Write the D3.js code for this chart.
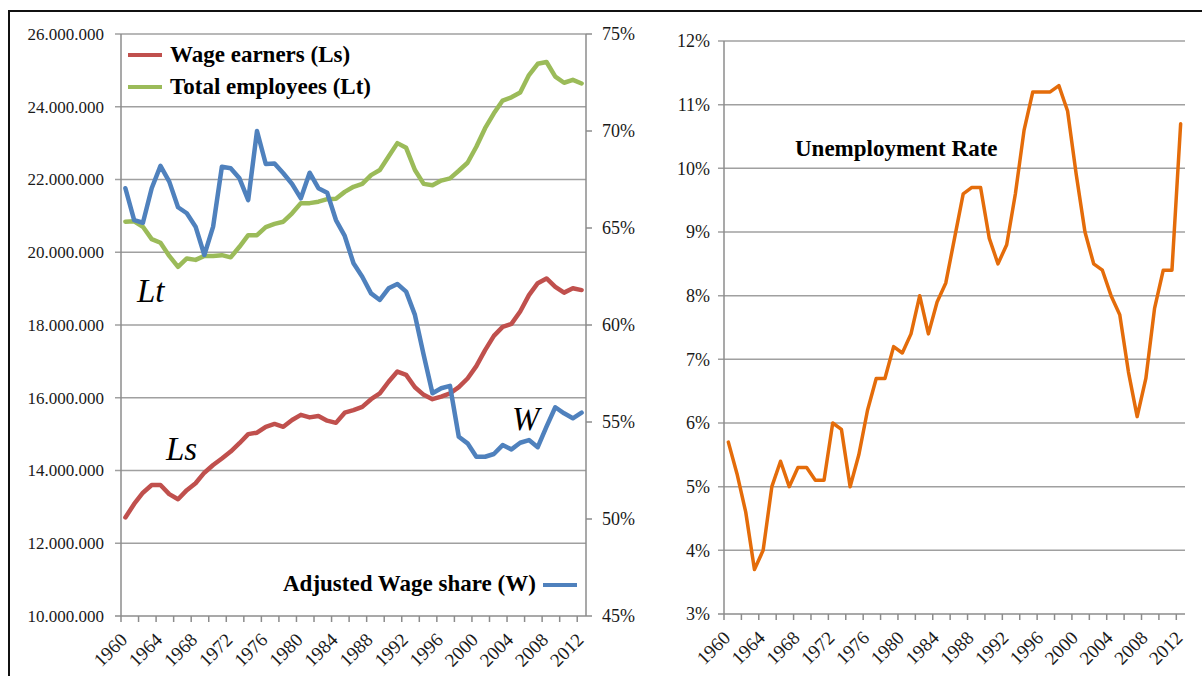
<!DOCTYPE html>
<meta charset="utf-8">
<script src="https://d3js.org/d3.v7.min.js"></script>
<style>
body{margin:0;background:#fff}
text{font-family:"Liberation Serif","DejaVu Serif",serif;fill:#1a1a1a}
</style>
<body>
<div id="svg"></div>
<script>
var years = [1960,1961,1962,1963,1964,1965,1966,1967,1968,1969,1970,1971,1972,1973,1974,1975,1976,1977,1978,1979,
	1980,1981,1982,1983,1984,1985,1986,1987,1988,1989,1990,1991,1992,1993,1994,1995,1996,1997,1998,1999,
	2000,2001,2002,2003,2004,2005,2006,2007,2008,2009,2010,2011,2012];
// millions of people
var wageEarners = [12.71,13.08,13.39,13.60,13.60,13.35,13.21,13.46,13.65,13.94,14.15,14.33,14.52,14.75,15.00,15.04,15.20,15.28,15.20,15.39,
	15.53,15.46,15.50,15.37,15.31,15.59,15.66,15.75,15.96,16.12,16.44,16.72,16.63,16.29,16.08,15.96,16.03,16.12,16.29,16.53,
	16.87,17.31,17.70,17.95,18.03,18.37,18.82,19.15,19.28,19.05,18.89,19.01,18.96];
var totalEmployees = [20.84,20.85,20.70,20.36,20.26,19.90,19.60,19.83,19.79,19.90,19.90,19.92,19.86,20.15,20.47,20.47,20.69,20.78,20.84,21.07,
	21.35,21.35,21.39,21.46,21.47,21.66,21.80,21.88,22.12,22.26,22.63,23.00,22.87,22.26,21.88,21.84,21.97,22.03,22.24,22.46,
	22.90,23.41,23.82,24.17,24.26,24.39,24.87,25.18,25.23,24.83,24.66,24.74,24.64];
// percent
var wageShare = [67.05,65.41,65.27,67.05,68.20,67.39,66.07,65.76,65.07,63.61,65.07,68.16,68.08,67.56,66.44,70.00,68.30,68.33,67.82,67.27,
	66.53,67.85,67.05,66.82,65.41,64.59,63.18,62.49,61.63,61.29,61.89,62.11,61.72,60.52,58.45,56.48,56.74,56.86,54.24,53.90,
	53.21,53.21,53.35,53.81,53.59,53.93,54.07,53.70,54.76,55.76,55.45,55.19,55.48];
var unemployment = [5.7,5.2,4.6,3.7,4.0,5.0,5.4,5.0,5.3,5.3,5.1,5.1,6.0,5.9,5.0,5.5,6.2,6.7,6.7,7.2,
	7.1,7.4,8.0,7.4,7.9,8.2,8.9,9.6,9.7,9.7,8.9,8.5,8.8,9.6,10.6,11.2,11.2,11.2,11.3,10.9,
	9.9,9.0,8.5,8.4,8.0,7.7,6.8,6.1,6.7,7.8,8.4,8.4,10.7];
var leftTicks = [10000000,12000000,14000000,16000000,18000000,20000000,22000000,24000000,26000000];
var shareTicks = [45,50,55,60,65,70,75];
var unempTicks = [3,4,5,6,7,8,9,10,11,12];

var red = '#c0504d', green = '#9bbb59', blue = '#4f81bd', orange = '#e46c0a';
var gridc = '#a0a0a0', axisc = '#8c8c8c';

var svg = d3.select('#svg').append('svg').attr('width',1202).attr('height',676);
svg.append('rect').attr('width',1202).attr('height',676).attr('fill','#fff');

var nl = d3.formatLocale({decimal:',',thousands:'.',grouping:[3],currency:['','']});
var fmtL = nl.format(',');

// scales
var xL = d3.scaleBand().domain(years).range([121,586]);
var xR = d3.scaleBand().domain(years).range([724,1185]);
var yL = d3.scaleLinear().domain([10000000,26000000]).range([616,34]);
var yW = d3.scaleLinear().domain([45,75]).range([616,34]);
var yU = d3.scaleLinear().domain([3,12]).range([614,41]);

function grid(g, ticks, y, x0, x1){
	ticks.forEach(function(t,i){
		if(i==0) return; // bottom one is the x axis
		g.append('line').attr('x1',x0-6).attr('x2',x1).attr('y1',y(t)).attr('y2',y(t))
			.attr('stroke',gridc).attr('stroke-width',1.5);
	});
}
function xAxis(g, x, y0){
	var r = x.range();
	g.append('line').attr('x1',r[0]-6).attr('x2',r[1]).attr('y1',y0).attr('y2',y0).attr('stroke',axisc).attr('stroke-width',1.5);
	years.forEach(function(d,i){
		if(i%2==0) g.append('line').attr('x1',x(d)).attr('x2',x(d)).attr('y1',y0).attr('y2',y0+6).attr('stroke',axisc).attr('stroke-width',1.5);
		if(i%4==0) g.append('text').attr('transform','translate('+(x(d)+x.bandwidth()/2+3)+','+(y0+25)+') rotate(-45)')
			.attr('text-anchor','end').attr('font-size',19).text(d);
	});
}

// ---- left chart
var gl = svg.append('g');
grid(gl, leftTicks, yL, 121, 586);
gl.selectAll('.yl').data(leftTicks).enter().append('text')
	.attr('x',104).attr('y',function(d){return yL(d);}).attr('dy','0.35em')
	.attr('text-anchor','end').attr('font-size',17).text(function(d){return fmtL(d);});
gl.append('line').attr('x1',121).attr('x2',121).attr('y1',34).attr('y2',616).attr('stroke',axisc).attr('stroke-width',1.5);
// secondary axis (wage share)
gl.append('line').attr('x1',586).attr('x2',586).attr('y1',34).attr('y2',616).attr('stroke',axisc).attr('stroke-width',1.5);
shareTicks.forEach(function(t){
	gl.append('line').attr('x1',586).attr('x2',592).attr('y1',yW(t)).attr('y2',yW(t)).attr('stroke',axisc).attr('stroke-width',1.5);
	gl.append('text').attr('x',602).attr('y',yW(t)).attr('dy','0.35em').attr('font-size',18).text(t+'%');
});
xAxis(gl, xL, 616);

var bwL = xL.bandwidth()/2;
function lineL(vals, yfn, color){
	gl.append('path').datum(vals)
		.attr('d', d3.line().x(function(d,i){return xL(years[i])+bwL;}).y(yfn))
		.attr('fill','none').attr('stroke',color).attr('stroke-width',4.5)
		.attr('stroke-linejoin','round').attr('stroke-linecap','round');
}
lineL(wageEarners, function(d){return yL(d*1000000);}, red);
lineL(totalEmployees, function(d){return yL(d*1000000);}, green);
lineL(wageShare, function(d){return yW(d);}, blue);

// legend
var legend = [{name:'Wage earners (Ls)',c:red,y:55},{name:'Total employees (Lt)',c:green,y:87}];
legend.forEach(function(l){
	gl.append('line').attr('x1',128).attr('x2',162).attr('y1',l.y).attr('y2',l.y).attr('stroke',l.c).attr('stroke-width',4);
	gl.append('text').attr('x',170).attr('y',l.y+7).attr('font-size',23).attr('font-weight','bold').style('fill','#000').text(l.name);
});
gl.append('text').attr('x',283).attr('y',591).attr('font-size',23).attr('font-weight','bold').style('fill','#000').text('Adjusted Wage share (W)');
gl.append('line').attr('x1',543).attr('x2',577).attr('y1',585).attr('y2',585).attr('stroke',blue).attr('stroke-width',4);

// italic labels on the curves
[{t:'Lt',x:137,y:302},{t:'Ls',x:166,y:460},{t:'W',x:512,y:430}].forEach(function(a){
	gl.append('text').attr('x',a.x).attr('y',a.y).attr('font-size',33).attr('font-style','italic').style('fill','#000').text(a.t);
});

// ---- right chart
var gr = svg.append('g');
grid(gr, unempTicks, yU, 724, 1185);
gr.selectAll('.yu').data(unempTicks).enter().append('text')
	.attr('x',710).attr('y',function(d){return yU(d);}).attr('dy','0.35em')
	.attr('text-anchor','end').attr('font-size',18).text(function(d){return d+'%';});
gr.append('line').attr('x1',724).attr('x2',724).attr('y1',41).attr('y2',614).attr('stroke',axisc).attr('stroke-width',1.5);
xAxis(gr, xR, 614);
var bwR = xR.bandwidth()/2;
gr.append('path').datum(unemployment)
	.attr('d', d3.line().x(function(d,i){return xR(years[i])+bwR;}).y(function(d){return yU(d);}))
	.attr('fill','none').attr('stroke',orange).attr('stroke-width',3.5)
	.attr('stroke-linejoin','round').attr('stroke-linecap','round');
gr.append('text').attr('x',795).attr('y',156).attr('font-size',23).attr('font-weight','bold').style('fill','#000').text('Unemployment Rate');

// frame
svg.append('path').attr('d','M9,676V11H1202').attr('fill','none').attr('stroke','#111').attr('stroke-width',2);
</script>
</body>
